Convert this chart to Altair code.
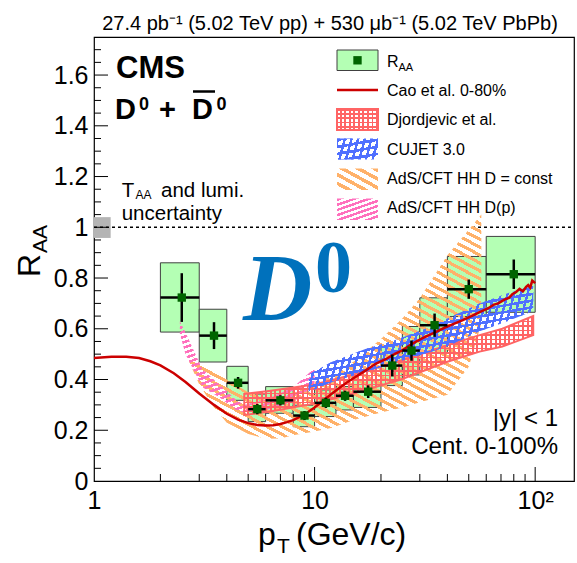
import math
import altair as alt
import pandas as pd

# ---------------- D0 R_AA, |y| < 1, centrality 0-100% ----------------
pt_lo = [2, 3, 4, 5, 6, 8, 10, 12.5, 15, 20, 25, 30, 40, 60]
pt_hi = [3, 4, 5, 6, 8, 10, 12.5, 15, 20, 25, 30, 40, 60, 100]
raa = [0.723, 0.573, 0.387, 0.283, 0.318, 0.258, 0.308, 0.336, 0.352, 0.455, 0.514, 0.614, 0.756, 0.815]
stat = [0.096, 0.053, 0.023, 0.020, 0.020, 0.018, 0.020, 0.020, 0.025, 0.043, 0.040, 0.046, 0.038, 0.058]
syst_lo = [0.587, 0.469, 0.318, 0.234, 0.267, 0.214, 0.254, 0.280, 0.290, 0.376, 0.418, 0.504, 0.648, 0.665]
syst_hi = [0.860, 0.677, 0.452, 0.343, 0.372, 0.299, 0.359, 0.372, 0.400, 0.534, 0.609, 0.722, 0.885, 0.964]

# ---------------- model curves ----------------
cao_pt = [1.0, 1.2, 1.4, 1.6, 1.8, 2.0, 2.3, 2.6, 3.0, 3.5, 4.0, 4.5, 5.0, 5.5, 6.0, 6.5, 7.0,
          7.5, 8.0, 9.0, 10, 11, 12, 13, 14, 15, 17, 19, 21, 23, 25, 27, 29, 32, 35, 39,
          43, 47, 52, 56, 61, 65, 68, 71, 73, 76, 79, 82, 85, 88, 91, 93, 95, 97, 100]
cao_raa = [0.485, 0.49, 0.49, 0.485, 0.472, 0.456, 0.425, 0.39, 0.345, 0.30, 0.265, 0.242, 0.228,
           0.221, 0.219, 0.22, 0.225, 0.232, 0.24, 0.262, 0.29, 0.318, 0.345, 0.368, 0.388, 0.405,
           0.435, 0.463, 0.48, 0.50, 0.515, 0.535, 0.55, 0.57, 0.585, 0.605, 0.62, 0.634, 0.652,
           0.666, 0.68, 0.695, 0.70, 0.71, 0.716, 0.722, 0.737, 0.745, 0.757, 0.748, 0.765, 0.772,
           0.762, 0.79, 0.78]

djo_pt = [4.8, 6.2, 10, 15, 24.6, 40, 56, 71, 98]
djo_lo = [0.26, 0.273, 0.305, 0.345, 0.40, 0.47, 0.51, 0.53, 0.575]
djo_hi = [0.343, 0.355, 0.38, 0.42, 0.475, 0.535, 0.575, 0.60, 0.65]

cujet_pt = [9.4, 12, 17, 24, 34, 40, 56, 75, 98]
cujet_lo = [0.35, 0.39, 0.43, 0.47, 0.51, 0.53, 0.59, 0.63, 0.67]
cujet_hi = [0.42, 0.47, 0.52, 0.56, 0.61, 0.64, 0.70, 0.74, 0.77]

ads_c_pt = [2.7, 3.0, 3.5, 4, 5, 6, 7, 8, 10, 12, 15, 20, 25, 30, 40, 50, 57]
ads_c_lo = [0.47, 0.38, 0.29, 0.23, 0.185, 0.167, 0.168, 0.18, 0.195, 0.21, 0.24, 0.27, 0.29, 0.31, 0.34, 0.45, 0.62]
ads_c_hi = [0.50, 0.47, 0.43, 0.40, 0.35, 0.33, 0.33, 0.35, 0.39, 0.42, 0.47, 0.56, 0.64, 0.72, 0.89, 0.99, 1.05]

ads_p_pt = [2.45, 2.6, 3.1, 3.7, 4.4, 4.8, 6, 8, 10]
ads_p_lo = [0.58, 0.50, 0.37, 0.33, 0.28, 0.27, 0.28, 0.31, 0.38]
ads_p_hi = [0.63, 0.585, 0.44, 0.38, 0.32, 0.30, 0.32, 0.37, 0.445]

taa_pt = [1.0, 1.19]
taa_lo, taa_hi = 0.958, 1.04

x_major = [10, 100]
x_minor = [2, 3, 4, 5, 6, 7, 8, 9, 20, 30, 40, 50, 60, 70, 80, 90]
y_major = [0.2, 0.4, 0.6, 0.8, 1.0, 1.2, 1.4, 1.6]
y_minor = [0.05, 0.1, 0.15, 0.25, 0.3, 0.35, 0.45, 0.5, 0.55, 0.65, 0.7, 0.75, 0.85, 0.9, 0.95,
           1.05, 1.1, 1.15, 1.25, 1.3, 1.35, 1.45, 1.5, 1.55, 1.65, 1.7]

# ---------------- frame geometry ----------------
W, H = 480, 444
XMAX, YMAX = 150, 1.75
OX, OY = 94, 37
FONT = "Liberation Sans"


def px(p):
    return W * math.log10(p) / math.log10(XMAX)


def py(v):
    return H * v / YMAX


CLEAR = "rgba(255,255,255,0)"


def hatch(color, angle, period, duty, w, h):
    """Striped linear gradient: lines at `angle` degrees, `period` px apart, for a w x h box."""
    phi = math.radians(angle + 90)
    c, s = math.cos(phi), math.sin(phi)
    L = abs(w * c) + abs(h * s)
    k = L / (w * w * c * c + h * h * s * s)
    x1 = 0.0 if c >= 0 else 1.0
    y1 = 0.0 if s >= 0 else 1.0
    n = max(1, int(round(L / period)))
    stops = []
    for i in range(n):
        a, b, e = i / n, (i + duty) / n, (i + 1) / n
        stops += [alt.GradientStop(color=color, offset=a), alt.GradientStop(color=color, offset=b),
                  alt.GradientStop(color=CLEAR, offset=b), alt.GradientStop(color=CLEAR, offset=e)]
    return alt.LinearGradient(gradient="linear", stops=stops, x1=x1, y1=y1,
                              x2=x1 + k * w * c, y2=y1 + k * h * s)


xs = alt.Scale(type="log", domain=[1, XMAX])
ys = alt.Scale(domain=[0, YMAX], nice=False, zero=False)
x_axis = alt.Axis(values=[1, 10, 100], labelExpr="datum.value == 100 ? '10²' : datum.label",
                  ticks=False, domain=False, grid=False, title="", labelFont=FONT,
                  labelFontSize=25, labelColor="black", labelPadding=7, labelFlush=False)
y_axis = alt.Axis(values=[0, 0.2, 0.4, 0.6, 0.8, 1.0, 1.2, 1.4, 1.6], format="~g",
                  ticks=False, domain=False, grid=False, title="", labelFont=FONT,
                  labelFontSize=25, labelColor="black", labelPadding=6, labelFlush=False)


def X(f):
    return alt.X(f, type="quantitative", scale=xs, axis=x_axis)


def Y(f):
    return alt.Y(f, type="quantitative", scale=ys, axis=y_axis)


ONE = alt.Data(values=[{}])

layers = []

# T_AA and luminosity box
taa = pd.DataFrame({"a": [taa_pt[0]], "b": [taa_pt[1]], "lo": [taa_lo], "hi": [taa_hi]})
layers.append(alt.Chart(taa).mark_rect(fill="#b4b4b4").encode(
    x=X("a"), x2="b", y=Y("lo"), y2="hi"))

# unity line
layers.append(alt.Chart(pd.DataFrame({"v": [1.0]})).mark_rule(
    color="black", strokeWidth=1.5, strokeDash=[3, 3]).encode(
    y=Y("v"), x=alt.value(0), x2=alt.value(W)))

# systematic boxes
data = pd.DataFrame({"lo": pt_lo, "hi": pt_hi, "raa": raa,
                     "c": [(a + b) / 2 for a, b in zip(pt_lo, pt_hi)],
                     "slo": syst_lo, "shi": syst_hi,
                     "elo": [r - e for r, e in zip(raa, stat)],
                     "ehi": [r + e for r, e in zip(raa, stat)]})
layers.append(alt.Chart(data).mark_rect(fill="#b4ffb4", stroke="#404040", strokeWidth=1).encode(
    x=X("lo"), x2="hi", y=Y("slo"), y2="shi"))


def band_df(p, lo, hi):
    return pd.DataFrame({"pt": p, "lo": lo, "hi": hi})


def band_box(p, lo, hi):
    return px(max(p)) - px(min(p)), py(max(hi)) - py(min(lo))


def band(p, lo, hi, fill, **kw):
    return alt.Chart(band_df(p, lo, hi)).mark_area(fill=fill, **kw).encode(
        x=X("pt"), y=Y("lo"), y2="hi")


ORANGE, PINK, RED, BLUE = "#ffb169", "#ff70bd", "#ff6464", "#4f6fff"

# hatch styles: (angle, period, duty)
ORANGE_H = (28, 7, 0.45)
PINK_H = (-19, 5, 0.5)
RED_V, RED_H = (90, 4.6, 0.42), (0, 4.6, 0.42)
BLUE_A, BLUE_B = (-75, 6.5, 0.38), (-10, 6.5, 0.38)

w, h = band_box(ads_c_pt, ads_c_lo, ads_c_hi)
layers.append(band(ads_c_pt, ads_c_lo, ads_c_hi, hatch(ORANGE, *ORANGE_H, w, h)))

w, h = band_box(ads_p_pt, ads_p_lo, ads_p_hi)
layers.append(band(ads_p_pt, ads_p_lo, ads_p_hi, hatch(PINK, *PINK_H, w, h)))

w, h = band_box(djo_pt, djo_lo, djo_hi)
layers.append(band(djo_pt, djo_lo, djo_hi, hatch(RED, *RED_V, w, h)))
layers.append(band(djo_pt, djo_lo, djo_hi, hatch(RED, *RED_H, w, h),
                   stroke=RED, strokeWidth=2))

w, h = band_box(cujet_pt, cujet_lo, cujet_hi)
layers.append(band(cujet_pt, cujet_lo, cujet_hi, hatch(BLUE, *BLUE_A, w, h)))
layers.append(band(cujet_pt, cujet_lo, cujet_hi, hatch(BLUE, *BLUE_B, w, h)))

# Cao et al. curve
layers.append(alt.Chart(pd.DataFrame({"pt": cao_pt, "r": cao_raa})).mark_line(
    color="#cc0000", strokeWidth=2.5).encode(x=X("pt"), y=Y("r")))

# data points with statistical errors
layers.append(alt.Chart(data).mark_rule(color="black", strokeWidth=2.5).encode(
    x=X("lo"), x2="hi", y=Y("raa")))
layers.append(alt.Chart(data).mark_rule(color="black", strokeWidth=2.5).encode(
    x=X("c"), y=Y("elo"), y2="ehi"))
layers.append(alt.Chart(data).mark_square(size=70, color="#006400", opacity=1).encode(
    x=X("c"), y=Y("raa")))

# inward ticks
layers.append(alt.Chart(pd.DataFrame({"t": x_major})).mark_rule(color="black").encode(
    x=X("t"), y=alt.value(H), y2=alt.value(H - 14)))
layers.append(alt.Chart(pd.DataFrame({"t": x_minor})).mark_rule(color="black").encode(
    x=X("t"), y=alt.value(H), y2=alt.value(H - 7)))
layers.append(alt.Chart(pd.DataFrame({"t": y_major})).mark_rule(color="black").encode(
    y=Y("t"), x=alt.value(0), x2=alt.value(14)))
layers.append(alt.Chart(pd.DataFrame({"t": y_minor})).mark_rule(color="black").encode(
    y=Y("t"), x=alt.value(0), x2=alt.value(7)))


def note(text, x, y, size, align="left", weight="normal", font=FONT, color="black",
         style="normal", angle=0):
    return alt.Chart(ONE).mark_text(
        text=text, x=x - OX, y=y - OY, fontSize=size, align=align, baseline="alphabetic",
        fontWeight=weight, font=font, color=color, fontStyle=style, angle=angle)


def deco_rect(x1, x2, y1, y2, **kw):
    return alt.Chart(ONE).mark_rect(x=x1 - OX, x2=x2 - OX, y=y1 - OY, y2=y2 - OY, **kw)


# header
layers.append(note("27.4 pb⁻¹ (5.02 TeV pp) + 530 μb⁻¹ (5.02 TeV PbPb)", 330, 30, 20, align="center"))

# CMS label and particle
layers.append(note("CMS", 116, 78, 31, weight="bold"))
layers.append(note("D", 115, 119, 29, weight="bold"))
layers.append(note("0", 139, 110, 18, weight="bold"))
layers.append(note("+", 159, 119, 29, weight="bold"))
layers.append(note("D", 192, 119, 29, weight="bold"))
layers.append(note("0", 216.5, 110, 18, weight="bold"))
layers.append(alt.Chart(ONE).mark_rule(color="black", strokeWidth=2.5).encode(
    x=alt.value(193 - OX), x2=alt.value(215 - OX), y=alt.value(91.5 - OY)))

# T_AA note
layers.append(note("T", 121.7, 196.5, 20.5))
layers.append(note("AA", 135.5, 198.5, 12))
layers.append(note("and lumi.", 161, 196.5, 20.5))
layers.append(note("uncertainty", 121.7, 220, 20.5))

# big D0
layers.append(note("D", 243, 320, 96, weight="bold", style="italic", font="Liberation Serif", color="#0071bc"))
layers.append(note("0", 315, 291.5, 74, weight="bold", font="Liberation Serif", color="#0071bc"))

# selection
layers.append(note("|y| < 1", 558, 426, 24, align="right"))
layers.append(note("Cent. 0-100%", 558, 454, 24, align="right"))

# axis titles
layers.append(note("p", 258, 545, 32))
layers.append(note("T", 277, 553, 21))
layers.append(note("(GeV/c)", 296, 545, 32))
layers.append(note("R", 40, 277, 32, angle=270))
layers.append(note("AA", 47, 253, 21, angle=270))

# legend
LX1, LX2 = 337, 378
layers.append(deco_rect(LX1, LX2, 50, 70.5, fill="#b4ffb4", stroke="#404040", strokeWidth=1))
layers.append(alt.Chart(ONE).mark_square(size=70, color="#006400", opacity=1).encode(
    x=alt.value(357.5 - OX), y=alt.value(60.3 - OY)))
layers.append(alt.Chart(ONE).mark_rule(color="#cc0000", strokeWidth=2.5).encode(
    x=alt.value(LX1 - OX), x2=alt.value(LX2 - OX), y=alt.value(90 - OY)))
sw, sh = LX2 - LX1, 21
layers.append(deco_rect(LX1, LX2, 109, 130, fill=hatch(RED, *RED_V, sw, sh)))
layers.append(deco_rect(LX1, LX2, 109, 130, fill=hatch(RED, *RED_H, sw, sh),
                        stroke=RED, strokeWidth=2))
layers.append(deco_rect(LX1, LX2, 138.5, 159.5, fill=hatch(BLUE, *BLUE_A, sw, sh)))
layers.append(deco_rect(LX1, LX2, 138.5, 159.5, fill=hatch(BLUE, *BLUE_B, sw, sh)))
layers.append(deco_rect(LX1, LX2, 168.5, 190, fill=hatch(ORANGE, *ORANGE_H, sw, sh)))
layers.append(deco_rect(LX1, LX2, 198.5, 220, fill=hatch(PINK, *PINK_H, sw, sh)))

LT = 387
layers.append(note("R", LT, 66.5, 16))
layers.append(note("AA", LT + 11.5, 70.5, 11))
layers.append(note("Cao et al. 0-80%", LT, 95.7, 16))
layers.append(note("Djordjevic et al.", LT, 125, 16))
layers.append(note("CUJET 3.0", LT, 154.5, 16))
layers.append(note("AdS/CFT HH D = const", LT, 184, 16))
layers.append(note("AdS/CFT HH D(p)", LT, 213, 16))

chart = alt.layer(*layers).properties(
    width=W, height=H,
    autosize=alt.AutoSizeParams(type="none"),
    padding={"left": OX, "top": OY, "right": 577 - OX - W, "bottom": 563 - OY - H},
    background="white",
).configure_view(stroke="black", strokeWidth=1.2)

chart.save("out.html", embed_options={"renderer": "svg", "actions": False})
